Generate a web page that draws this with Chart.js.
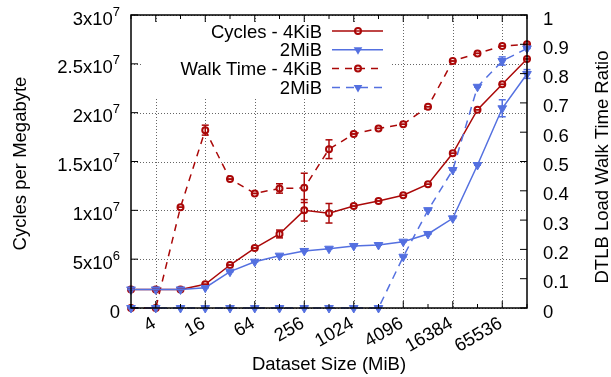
<!DOCTYPE html>
<html>
<head>
<meta charset="utf-8">
<title>Cycles per Megabyte vs Dataset Size</title>
<script src="https://cdn.jsdelivr.net/npm/chart.js@4"></script>
<style>
  html, body { margin: 0; padding: 0; background: #fff; }
  canvas { display: block; }
</style>
</head>
<body>
<canvas id="chart" width="611" height="377"></canvas>
<script>
// dataset sizes in MiB (x axis is log2)
const sizes = [2, 4, 8, 16, 32, 64, 128, 256, 512, 1024, 2048, 4096, 8192, 16384, 32768, 65536, 131072];

// cycles per megabyte (left axis)
const cycles4k = [1.9e6, 1.9e6, 1.9e6, 2.43e6, 4.4e6, 6.14e6, 7.58e6, 1.0e7, 9.7e6, 1.044e7, 1.096e7, 1.154e7, 1.267e7, 1.584e7, 2.03e7, 2.29e7, 2.55e7];
const cycles2m = [1.9e6, 1.9e6, 1.9e6, 2.08e6, 3.72e6, 4.74e6, 5.36e6, 5.84e6, 6.07e6, 6.35e6, 6.45e6, 6.79e6, 7.58e6, 9.18e6, 1.464e7, 2.045e7, 2.396e7];
const cycles4kErr = [0, 0, 0, 0, 0, 0, 4e5, 1.1e6, 1.0e6, 0, 0, 0, 0, 0, 0, 0, 0];
const cycles2mErr = [0, 0, 0, 0, 0, 0, 0, 0, 0, 0, 0, 0, 0, 0, 0, 8.7e5, 4.5e5];

// DTLB load walk time ratio (right axis)
const walk4k = [0, 0, 0.344, 0.607, 0.44, 0.391, 0.408, 0.41, 0.542, 0.594, 0.613, 0.627, 0.687, 0.843, 0.869, 0.894, 0.9];
const walk2m = [0, 0, 0, 0, 0, 0, 0, 0, 0, 0, 0, 0.175, 0.334, 0.471, 0.755, 0.843, 0.886];
const walk4kErr = [0, 0, 0, 0.017, 0, 0, 0.016, 0.05, 0.032, 0, 0, 0, 0, 0, 0, 0, 0];
const walk2mErr = [0, 0, 0, 0, 0, 0, 0, 0, 0, 0, 0, 0, 0, 0, 0, 0.014, 0];

// ticks
const xTicks = [4, 16, 64, 256, 1024, 4096, 16384, 65536];
const yTicks = [0, 5e6, 1e7, 1.5e7, 2e7, 2.5e7, 3e7];
const yTickLabels = [["0", ""], ["5x10", "6"], ["1x10", "7"], ["1.5x10", "7"], ["2x10", "7"], ["2.5x10", "7"], ["3x10", "7"]];
const y2Ticks = [0, 0.1, 0.2, 0.3, 0.4, 0.5, 0.6, 0.7, 0.8, 0.9, 1];
const y2TickLabels = ["0", "0.1", "0.2", "0.3", "0.4", "0.5", "0.6", "0.7", "0.8", "0.9", "1"];

const legendLabels = ["Cycles - 4KiB", "2MiB", "Walk Time - 4KiB", "2MiB"];

const RED = "#aa0808";
const BLUE = "#5470e0";
const FONT = '18.5px "Liberation Sans", Arial, sans-serif';
const SUP_FONT = '13px "Liberation Sans", Arial, sans-serif';

function pts(vals) {
  return sizes.map((s, i) => ({ x: Math.log2(s), y: vals[i] }));
}

function line(ctx, x1, y1, x2, y2) {
  ctx.beginPath();
  ctx.moveTo(x1, y1);
  ctx.lineTo(x2, y2);
  ctx.stroke();
}

function drawMarker(ctx, style, color, x, y) {
  ctx.save();
  ctx.setLineDash([]);
  if (style === "circle") {
    ctx.beginPath();
    ctx.arc(x, y, 3, 0, Math.PI * 2);
    ctx.fillStyle = "#fff";
    ctx.fill();
    ctx.lineWidth = 2;
    ctx.strokeStyle = color;
    ctx.stroke();
  } else {
    const r = 5;
    ctx.beginPath();
    ctx.moveTo(x, y + r);
    ctx.lineTo(x - r * 0.866, y - r / 2);
    ctx.lineTo(x + r * 0.866, y - r / 2);
    ctx.closePath();
    ctx.fillStyle = color;
    ctx.fill();
  }
  ctx.restore();
}

const errs = [cycles4kErr, cycles2mErr, walk4kErr, walk2mErr];

const framePlugin = {
  id: "frame",
  beforeDatasetsDraw(chart) {
    const { ctx, chartArea: a, scales } = chart;
    ctx.save();
    ctx.strokeStyle = "#666";
    ctx.lineWidth = 1;
    ctx.setLineDash([1, 2]);
    xTicks.forEach(t => {
      const px = Math.round(scales.x.getPixelForValue(Math.log2(t))) + 0.5;
      line(ctx, px, a.top, px, a.bottom);
    });
    yTicks.forEach(t => {
      const py = Math.round(scales.y.getPixelForValue(t)) + 0.5;
      line(ctx, a.left, py, a.right, py);
    });
    ctx.restore();
  },
  afterDatasetsDraw(chart) {
    const { ctx, chartArea: a, scales } = chart;
    ctx.save();

    // error bars
    chart.data.datasets.forEach((ds, i) => {
      const meta = chart.getDatasetMeta(i);
      const sc = scales[ds.yAxisID];
      ctx.strokeStyle = ds.borderColor;
      ctx.lineWidth = 1.5;
      ctx.setLineDash([]);
      meta.data.forEach((p, j) => {
        const v = ds.data[j].y;
        const e = errs[i][j];
        const y1 = sc.getPixelForValue(v - e);
        const y2 = sc.getPixelForValue(v + e);
        if (e > 0) line(ctx, p.x, y1, p.x, y2);
        line(ctx, p.x - 3.5, y1, p.x + 3.5, y1);
        line(ctx, p.x - 3.5, y2, p.x + 3.5, y2);
      });
    });

    // key box
    ctx.fillStyle = "#fff";
    ctx.fillRect(143, 22, 248, 75);
    ctx.font = FONT;
    ctx.textAlign = "right";
    ctx.textBaseline = "alphabetic";
    chart.data.datasets.forEach((ds, i) => {
      const yy = 31 + i * 18.8;
      ctx.fillStyle = "#000";
      ctx.fillText(legendLabels[i], 322, yy + 6.5);
      ctx.strokeStyle = ds.borderColor;
      ctx.lineWidth = 1.5;
      ctx.setLineDash(ds.borderDash || []);
      line(ctx, 332, yy, 383, yy);
      drawMarker(ctx, ds.pointStyle === "circle" ? "circle" : "tri", ds.borderColor, 358, yy);
      if (ds.pointStyle === "circle") {
        ctx.setLineDash([]);
        line(ctx, 354.5, yy, 361.5, yy);
      }
    });

    // border and inward ticks
    ctx.setLineDash([]);
    ctx.strokeStyle = "#000";
    ctx.lineWidth = 1.5;
    ctx.strokeRect(a.left, a.top, a.right - a.left, a.bottom - a.top);
    ctx.lineWidth = 1;
    yTicks.forEach(t => {
      const py = scales.y.getPixelForValue(t);
      line(ctx, a.left, py, a.left + 7, py);
    });
    y2Ticks.forEach(t => {
      const py = scales.y2.getPixelForValue(t);
      line(ctx, a.right - 7, py, a.right, py);
    });
    for (let k = 1; k <= 17; k++) {
      const px = scales.x.getPixelForValue(k);
      const len = k % 2 === 0 ? 7 : 4;
      line(ctx, px, a.bottom, px, a.bottom - len);
      line(ctx, px, a.top, px, a.top + len);
    }
    ctx.restore();
  },
  afterDraw(chart) {
    const { ctx, chartArea: a, scales } = chart;
    ctx.save();
    ctx.fillStyle = "#000";
    ctx.textBaseline = "alphabetic";

    // left tick labels with superscript exponent
    yTicks.forEach((t, i) => {
      const py = scales.y.getPixelForValue(t);
      const [base, sup] = yTickLabels[i];
      ctx.font = SUP_FONT;
      const supW = sup ? ctx.measureText(sup).width : 0;
      ctx.textAlign = "left";
      if (sup) ctx.fillText(sup, 120 - supW, py + 0.5);
      ctx.font = FONT;
      ctx.textAlign = "right";
      ctx.fillText(base, 120 - supW, py + 9.5);
    });

    // right tick labels
    ctx.font = FONT;
    ctx.textAlign = "left";
    y2Ticks.forEach((t, i) => {
      const py = scales.y2.getPixelForValue(t);
      ctx.fillText(y2TickLabels[i], 543, py + 9.5);
    });

    // x tick labels, rotated
    ctx.textAlign = "right";
    xTicks.forEach(t => {
      const px = scales.x.getPixelForValue(Math.log2(t));
      ctx.save();
      ctx.translate(px - 2, a.bottom + 13);
      ctx.rotate(-Math.PI / 6);
      ctx.fillText(String(t), 0, 6.5);
      ctx.restore();
    });

    // axis titles
    ctx.textAlign = "center";
    ctx.fillText("Dataset Size (MiB)", (a.left + a.right) / 2, 370);
    ctx.save();
    ctx.translate(26, 163.5);
    ctx.rotate(-Math.PI / 2);
    ctx.fillText("Cycles per Megabyte", 0, 0);
    ctx.restore();
    ctx.save();
    ctx.translate(608, 167);
    ctx.rotate(-Math.PI / 2);
    ctx.fillText("DTLB Load Walk Time Ratio", 0, 0);
    ctx.restore();
    ctx.restore();
  }
};

const ctx = document.getElementById("chart").getContext("2d");
const myChart = new Chart(ctx, {
  type: "line",
  data: {
    datasets: [
      {
        label: legendLabels[0],
        data: pts(cycles4k),
        yAxisID: "y",
        borderColor: RED,
        backgroundColor: "#fff",
        borderWidth: 1.5,
        pointStyle: "circle",
        pointRadius: 3,
        pointBorderWidth: 2,
        pointBackgroundColor: "#fff",
        clip: false,
        order: 2,
      },
      {
        label: legendLabels[1],
        data: pts(cycles2m),
        yAxisID: "y",
        borderColor: BLUE,
        backgroundColor: BLUE,
        borderWidth: 1.5,
        pointStyle: "triangle",
        rotation: 180,
        pointRadius: 5,
        pointBorderWidth: 1,
        pointBackgroundColor: BLUE,
        clip: false,
        order: 0,
      },
      {
        label: legendLabels[2],
        data: pts(walk4k),
        yAxisID: "y2",
        borderColor: RED,
        backgroundColor: "#fff",
        borderWidth: 1.5,
        borderDash: [7, 6],
        pointStyle: "circle",
        pointRadius: 3,
        pointBorderWidth: 2,
        pointBackgroundColor: "#fff",
        clip: false,
        order: 3,
      },
      {
        label: legendLabels[3],
        data: pts(walk2m),
        yAxisID: "y2",
        borderColor: BLUE,
        backgroundColor: BLUE,
        borderWidth: 1.5,
        borderDash: [8, 6],
        pointStyle: "triangle",
        rotation: 180,
        pointRadius: 5,
        pointBorderWidth: 1,
        pointBackgroundColor: BLUE,
        clip: false,
        order: 1,
      },
    ],
  },
  options: {
    responsive: false,
    animation: false,
    layout: { padding: { left: 131, top: 15, right: 84, bottom: 69 } },
    plugins: { legend: { display: false }, tooltip: { enabled: false } },
    scales: {
      x: { type: "linear", min: 1, max: 17, display: false },
      y: { type: "linear", min: 0, max: 3e7, display: false },
      y2: { type: "linear", position: "right", min: 0, max: 1, display: false },
    },
  },
  plugins: [framePlugin],
});
</script>
</body>
</html>
